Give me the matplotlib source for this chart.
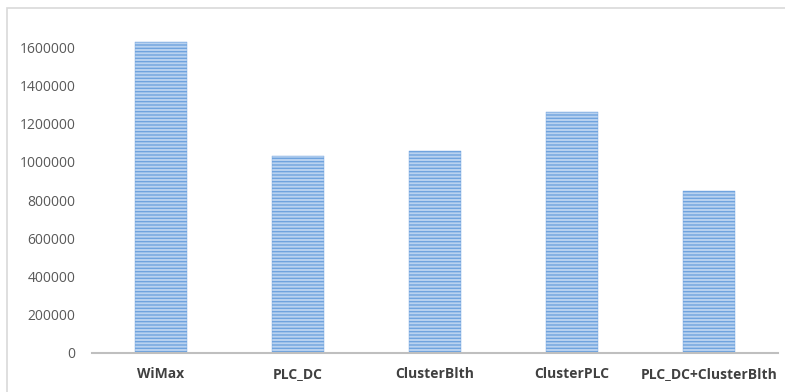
import matplotlib.pyplot as plt
from matplotlib.patches import Rectangle

# data
categories = ["WiMax", "PLC_DC", "ClusterBlth", "ClusterPLC", "PLC_DC+ClusterBlth"]
values = [1625000, 1030000, 1056000, 1260000, 847000]
yticks = [0, 200000, 400000, 600000, 800000, 1000000, 1200000, 1400000, 1600000]

plt.rcParams["font.family"] = ["Open Sans", "DejaVu Sans"]
plt.rcParams["hatch.linewidth"] = 1.0

fig = plt.figure(figsize=(7.85, 3.92), dpi=100)
ax = fig.add_axes([92 / 785, 1 - 353 / 392, (778 - 92) / 785, 344 / 392])

x = list(range(len(categories)))
ax.bar(x, values, width=0.38, color="#b9d2f0", edgecolor="#6fa3de",
       linewidth=0.3, hatch="-----")

ax.set_xlim(-0.5, 4.5)
ax.set_ylim(0, 1800000)
ax.set_yticks(yticks)
ax.set_yticklabels([str(v) for v in yticks], color="#595959", fontsize=10)
ax.set_xticks(x)
ax.set_xticklabels(categories, color="#404040", fontsize=10, fontweight="bold")
ax.tick_params(axis="both", length=0)
ax.tick_params(axis="y", pad=12)
ax.tick_params(axis="x", pad=10)

for s in ["top", "right", "left"]:
    ax.spines[s].set_visible(False)
ax.spines["bottom"].set_color("#bfbfbf")
ax.spines["bottom"].set_linewidth(1.5)

# chart border
fig.patches.append(Rectangle((7 / 785, -0.01), 1.0, 1 - 8 / 392 + 0.01,
                             transform=fig.transFigure, fill=False,
                             edgecolor="#d9d9d9", linewidth=1.2))

fig.savefig("out.png", dpi=100)
